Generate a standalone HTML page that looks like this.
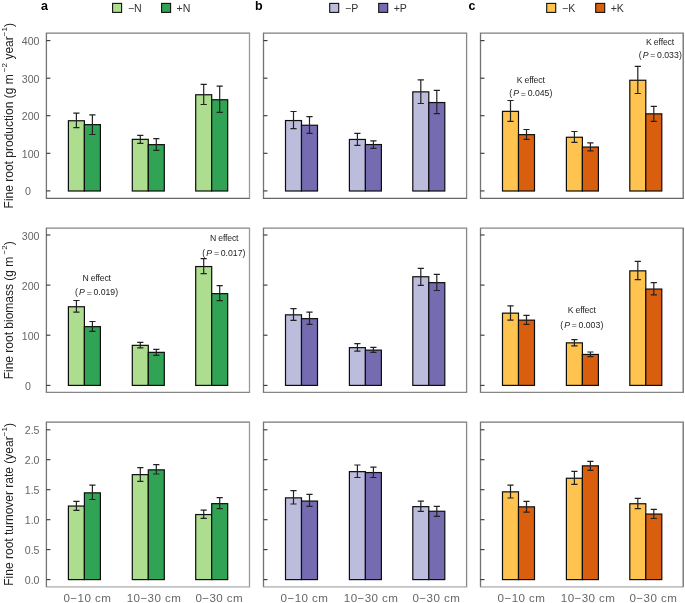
<!DOCTYPE html>
<html><head><meta charset="utf-8"><style>
html,body{margin:0;padding:0;background:#fff;}
body{width:685px;height:603px;overflow:hidden;font-family:"Liberation Sans",sans-serif;}
svg{display:block;font-family:"Liberation Sans",sans-serif;filter:blur(0.3px);}
</style></head><body>
<svg width="685" height="603" viewBox="0 0 685 603">
<rect width="100%" height="100%" fill="#fff"/>
<text x="41.0" y="9.6" font-size="12.5" font-weight="bold" fill="#000">a</text>
<text x="255.0" y="9.6" font-size="12.5" font-weight="bold" fill="#000">b</text>
<text x="468.6" y="9.6" font-size="12.5" font-weight="bold" fill="#000">c</text>
<rect x="112.6" y="3.4" width="9" height="9" fill="#addd8e" stroke="#111" stroke-width="1.1"/>
<text x="127.9" y="11.8" font-size="10.6" fill="#333">−N</text>
<rect x="161.6" y="3.4" width="9" height="9" fill="#31a354" stroke="#111" stroke-width="1.1"/>
<text x="176.6" y="11.8" font-size="10.6" fill="#333">+N</text>
<rect x="329.7" y="3.4" width="9" height="9" fill="#bcbddc" stroke="#111" stroke-width="1.1"/>
<text x="345.0" y="11.8" font-size="10.6" fill="#333">−P</text>
<rect x="378.7" y="3.4" width="9" height="9" fill="#756bb1" stroke="#111" stroke-width="1.1"/>
<text x="393.7" y="11.8" font-size="10.6" fill="#333">+P</text>
<rect x="546.7" y="3.4" width="9" height="9" fill="#fec44f" stroke="#111" stroke-width="1.1"/>
<text x="562.0" y="11.8" font-size="10.6" fill="#333">−K</text>
<rect x="595.7" y="3.4" width="9" height="9" fill="#d95f0e" stroke="#111" stroke-width="1.1"/>
<text x="610.7" y="11.8" font-size="10.6" fill="#333">+K</text>
<rect x="68.40" y="120.75" width="16.0" height="70.25" fill="#addd8e" stroke="#0d0d0d" stroke-width="1.2"/>
<rect x="84.40" y="124.65" width="16.0" height="66.35" fill="#31a354" stroke="#0d0d0d" stroke-width="1.2"/>
<path d="M76.40 113.20V127.60M73.30 113.20H79.50M73.30 127.60H79.50" stroke="#222" stroke-width="1.2" fill="none"/>
<path d="M92.40 114.90V134.50M89.30 114.90H95.50M89.30 134.50H95.50" stroke="#222" stroke-width="1.2" fill="none"/>
<rect x="132.30" y="139.35" width="16.0" height="51.65" fill="#addd8e" stroke="#0d0d0d" stroke-width="1.2"/>
<rect x="148.30" y="144.65" width="16.0" height="46.35" fill="#31a354" stroke="#0d0d0d" stroke-width="1.2"/>
<path d="M140.30 135.30V143.30M137.20 135.30H143.40M137.20 143.30H143.40" stroke="#222" stroke-width="1.2" fill="none"/>
<path d="M156.30 138.70V150.30M153.20 138.70H159.40M153.20 150.30H159.40" stroke="#222" stroke-width="1.2" fill="none"/>
<rect x="195.70" y="94.75" width="16.0" height="96.25" fill="#addd8e" stroke="#0d0d0d" stroke-width="1.2"/>
<rect x="211.70" y="99.75" width="16.0" height="91.25" fill="#31a354" stroke="#0d0d0d" stroke-width="1.2"/>
<path d="M203.70 84.40V104.50M200.60 84.40H206.80M200.60 104.50H206.80" stroke="#222" stroke-width="1.2" fill="none"/>
<path d="M219.70 86.10V112.40M216.60 86.10H222.80M216.60 112.40H222.80" stroke="#222" stroke-width="1.2" fill="none"/>
<path d="M45.8 33.2H250.1" stroke="#7c7c7c" stroke-width="1.3"/>
<path d="M45.8 198.3H250.1" stroke="#666666" stroke-width="1.3"/>
<path d="M46.4 33.2V198.3" stroke="#747474" stroke-width="1.3"/>
<path d="M249.5 33.2V198.3" stroke="#9a9a9a" stroke-width="1.3"/>
<path d="M46.4 190.9H50.4" stroke="#333" stroke-width="1.1"/>
<path d="M46.4 153.3H50.4" stroke="#333" stroke-width="1.1"/>
<path d="M46.4 115.7H50.4" stroke="#333" stroke-width="1.1"/>
<path d="M46.4 78.2H50.4" stroke="#333" stroke-width="1.1"/>
<path d="M46.4 40.6H50.4" stroke="#333" stroke-width="1.1"/>
<rect x="285.50" y="120.55" width="16.0" height="70.45" fill="#bcbddc" stroke="#0d0d0d" stroke-width="1.2"/>
<rect x="301.50" y="125.25" width="16.0" height="65.75" fill="#756bb1" stroke="#0d0d0d" stroke-width="1.2"/>
<path d="M293.50 111.50V128.70M290.40 111.50H296.60M290.40 128.70H296.60" stroke="#222" stroke-width="1.2" fill="none"/>
<path d="M309.50 116.60V133.40M306.40 116.60H312.60M306.40 133.40H312.60" stroke="#222" stroke-width="1.2" fill="none"/>
<rect x="349.40" y="139.45" width="16.0" height="51.55" fill="#bcbddc" stroke="#0d0d0d" stroke-width="1.2"/>
<rect x="365.40" y="144.55" width="16.0" height="46.45" fill="#756bb1" stroke="#0d0d0d" stroke-width="1.2"/>
<path d="M357.40 133.40V145.30M354.30 133.40H360.50M354.30 145.30H360.50" stroke="#222" stroke-width="1.2" fill="none"/>
<path d="M373.40 140.90V148.40M370.30 140.90H376.50M370.30 148.40H376.50" stroke="#222" stroke-width="1.2" fill="none"/>
<rect x="412.80" y="91.85" width="16.0" height="99.15" fill="#bcbddc" stroke="#0d0d0d" stroke-width="1.2"/>
<rect x="428.80" y="102.55" width="16.0" height="88.45" fill="#756bb1" stroke="#0d0d0d" stroke-width="1.2"/>
<path d="M420.80 79.90V103.50M417.70 79.90H423.90M417.70 103.50H423.90" stroke="#222" stroke-width="1.2" fill="none"/>
<path d="M436.80 90.30V113.70M433.70 90.30H439.90M433.70 113.70H439.90" stroke="#222" stroke-width="1.2" fill="none"/>
<path d="M262.9 33.2H467.20000000000005" stroke="#7c7c7c" stroke-width="1.3"/>
<path d="M262.9 198.3H467.20000000000005" stroke="#666666" stroke-width="1.3"/>
<path d="M263.5 33.2V198.3" stroke="#747474" stroke-width="1.3"/>
<path d="M466.6 33.2V198.3" stroke="#888888" stroke-width="1.3"/>
<path d="M263.5 190.9H267.5" stroke="#333" stroke-width="1.1"/>
<path d="M263.5 153.3H267.5" stroke="#333" stroke-width="1.1"/>
<path d="M263.5 115.7H267.5" stroke="#333" stroke-width="1.1"/>
<path d="M263.5 78.2H267.5" stroke="#333" stroke-width="1.1"/>
<path d="M263.5 40.6H267.5" stroke="#333" stroke-width="1.1"/>
<rect x="502.50" y="111.35" width="16.0" height="79.65" fill="#fec44f" stroke="#0d0d0d" stroke-width="1.2"/>
<rect x="518.50" y="134.65" width="16.0" height="56.35" fill="#d95f0e" stroke="#0d0d0d" stroke-width="1.2"/>
<path d="M510.50 100.50V121.30M507.40 100.50H513.60M507.40 121.30H513.60" stroke="#222" stroke-width="1.2" fill="none"/>
<path d="M526.50 129.50V139.30M523.40 129.50H529.60M523.40 139.30H529.60" stroke="#222" stroke-width="1.2" fill="none"/>
<rect x="566.40" y="137.25" width="16.0" height="53.75" fill="#fec44f" stroke="#0d0d0d" stroke-width="1.2"/>
<rect x="582.40" y="147.05" width="16.0" height="43.95" fill="#d95f0e" stroke="#0d0d0d" stroke-width="1.2"/>
<path d="M574.40 131.50V142.40M571.30 131.50H577.50M571.30 142.40H577.50" stroke="#222" stroke-width="1.2" fill="none"/>
<path d="M590.40 142.80V150.80M587.30 142.80H593.50M587.30 150.80H593.50" stroke="#222" stroke-width="1.2" fill="none"/>
<rect x="629.80" y="80.25" width="16.0" height="110.75" fill="#fec44f" stroke="#0d0d0d" stroke-width="1.2"/>
<rect x="645.80" y="113.85" width="16.0" height="77.15" fill="#d95f0e" stroke="#0d0d0d" stroke-width="1.2"/>
<path d="M637.80 66.30V93.50M634.70 66.30H640.90M634.70 93.50H640.90" stroke="#222" stroke-width="1.2" fill="none"/>
<path d="M653.80 106.40V121.40M650.70 106.40H656.90M650.70 121.40H656.90" stroke="#222" stroke-width="1.2" fill="none"/>
<path d="M479.9 33.2H683.8000000000001" stroke="#7c7c7c" stroke-width="1.3"/>
<path d="M479.9 198.3H683.8000000000001" stroke="#666666" stroke-width="1.3"/>
<path d="M480.5 33.2V198.3" stroke="#747474" stroke-width="1.3"/>
<path d="M683.2 33.2V198.3" stroke="#6a6a6a" stroke-width="1.3"/>
<path d="M480.5 190.9H484.5" stroke="#333" stroke-width="1.1"/>
<path d="M480.5 153.3H484.5" stroke="#333" stroke-width="1.1"/>
<path d="M480.5 115.7H484.5" stroke="#333" stroke-width="1.1"/>
<path d="M480.5 78.2H484.5" stroke="#333" stroke-width="1.1"/>
<path d="M480.5 40.6H484.5" stroke="#333" stroke-width="1.1"/>
<rect x="68.40" y="306.75" width="16.0" height="78.65" fill="#addd8e" stroke="#0d0d0d" stroke-width="1.2"/>
<rect x="84.40" y="326.65" width="16.0" height="58.75" fill="#31a354" stroke="#0d0d0d" stroke-width="1.2"/>
<path d="M76.40 300.50V312.20M73.30 300.50H79.50M73.30 312.20H79.50" stroke="#222" stroke-width="1.2" fill="none"/>
<path d="M92.40 321.50V331.30M89.30 321.50H95.50M89.30 331.30H95.50" stroke="#222" stroke-width="1.2" fill="none"/>
<rect x="132.30" y="345.35" width="16.0" height="40.05" fill="#addd8e" stroke="#0d0d0d" stroke-width="1.2"/>
<rect x="148.30" y="352.35" width="16.0" height="33.05" fill="#31a354" stroke="#0d0d0d" stroke-width="1.2"/>
<path d="M140.30 342.30V347.90M137.20 342.30H143.40M137.20 347.90H143.40" stroke="#222" stroke-width="1.2" fill="none"/>
<path d="M156.30 349.40V355.40M153.20 349.40H159.40M153.20 355.40H159.40" stroke="#222" stroke-width="1.2" fill="none"/>
<rect x="195.70" y="266.55" width="16.0" height="118.85" fill="#addd8e" stroke="#0d0d0d" stroke-width="1.2"/>
<rect x="211.70" y="293.65" width="16.0" height="91.75" fill="#31a354" stroke="#0d0d0d" stroke-width="1.2"/>
<path d="M203.70 258.60V273.70M200.60 258.60H206.80M200.60 273.70H206.80" stroke="#222" stroke-width="1.2" fill="none"/>
<path d="M219.70 285.60V300.70M216.60 285.60H222.80M216.60 300.70H222.80" stroke="#222" stroke-width="1.2" fill="none"/>
<path d="M45.8 228.1H250.1" stroke="#858585" stroke-width="1.3"/>
<path d="M45.8 392.4H250.1" stroke="#878787" stroke-width="1.3"/>
<path d="M46.4 228.1V392.4" stroke="#747474" stroke-width="1.3"/>
<path d="M249.5 228.1V392.4" stroke="#9a9a9a" stroke-width="1.3"/>
<path d="M46.4 385.4H50.4" stroke="#333" stroke-width="1.1"/>
<path d="M46.4 335.2H50.4" stroke="#333" stroke-width="1.1"/>
<path d="M46.4 285.1H50.4" stroke="#333" stroke-width="1.1"/>
<path d="M46.4 235.0H50.4" stroke="#333" stroke-width="1.1"/>
<rect x="285.50" y="314.85" width="16.0" height="70.55" fill="#bcbddc" stroke="#0d0d0d" stroke-width="1.2"/>
<rect x="301.50" y="318.65" width="16.0" height="66.75" fill="#756bb1" stroke="#0d0d0d" stroke-width="1.2"/>
<path d="M293.50 308.60V320.40M290.40 308.60H296.60M290.40 320.40H296.60" stroke="#222" stroke-width="1.2" fill="none"/>
<path d="M309.50 312.10V324.30M306.40 312.10H312.60M306.40 324.30H312.60" stroke="#222" stroke-width="1.2" fill="none"/>
<rect x="349.40" y="347.65" width="16.0" height="37.75" fill="#bcbddc" stroke="#0d0d0d" stroke-width="1.2"/>
<rect x="365.40" y="350.15" width="16.0" height="35.25" fill="#756bb1" stroke="#0d0d0d" stroke-width="1.2"/>
<path d="M357.40 343.60V351.10M354.30 343.60H360.50M354.30 351.10H360.50" stroke="#222" stroke-width="1.2" fill="none"/>
<path d="M373.40 347.40V352.40M370.30 347.40H376.50M370.30 352.40H376.50" stroke="#222" stroke-width="1.2" fill="none"/>
<rect x="412.80" y="276.75" width="16.0" height="108.65" fill="#bcbddc" stroke="#0d0d0d" stroke-width="1.2"/>
<rect x="428.80" y="282.65" width="16.0" height="102.75" fill="#756bb1" stroke="#0d0d0d" stroke-width="1.2"/>
<path d="M420.80 268.40V285.30M417.70 268.40H423.90M417.70 285.30H423.90" stroke="#222" stroke-width="1.2" fill="none"/>
<path d="M436.80 274.40V290.50M433.70 274.40H439.90M433.70 290.50H439.90" stroke="#222" stroke-width="1.2" fill="none"/>
<path d="M262.9 228.1H467.20000000000005" stroke="#858585" stroke-width="1.3"/>
<path d="M262.9 392.4H467.20000000000005" stroke="#878787" stroke-width="1.3"/>
<path d="M263.5 228.1V392.4" stroke="#747474" stroke-width="1.3"/>
<path d="M466.6 228.1V392.4" stroke="#888888" stroke-width="1.3"/>
<path d="M263.5 385.4H267.5" stroke="#333" stroke-width="1.1"/>
<path d="M263.5 335.2H267.5" stroke="#333" stroke-width="1.1"/>
<path d="M263.5 285.1H267.5" stroke="#333" stroke-width="1.1"/>
<path d="M263.5 235.0H267.5" stroke="#333" stroke-width="1.1"/>
<rect x="502.50" y="313.15" width="16.0" height="72.25" fill="#fec44f" stroke="#0d0d0d" stroke-width="1.2"/>
<rect x="518.50" y="320.15" width="16.0" height="65.25" fill="#d95f0e" stroke="#0d0d0d" stroke-width="1.2"/>
<path d="M510.50 305.80V320.20M507.40 305.80H513.60M507.40 320.20H513.60" stroke="#222" stroke-width="1.2" fill="none"/>
<path d="M526.50 315.40V324.30M523.40 315.40H529.60M523.40 324.30H529.60" stroke="#222" stroke-width="1.2" fill="none"/>
<rect x="566.40" y="342.85" width="16.0" height="42.55" fill="#fec44f" stroke="#0d0d0d" stroke-width="1.2"/>
<rect x="582.40" y="354.45" width="16.0" height="30.95" fill="#d95f0e" stroke="#0d0d0d" stroke-width="1.2"/>
<path d="M574.40 339.60V345.80M571.30 339.60H577.50M571.30 345.80H577.50" stroke="#222" stroke-width="1.2" fill="none"/>
<path d="M590.40 352.00V356.70M587.30 352.00H593.50M587.30 356.70H593.50" stroke="#222" stroke-width="1.2" fill="none"/>
<rect x="629.80" y="270.85" width="16.0" height="114.55" fill="#fec44f" stroke="#0d0d0d" stroke-width="1.2"/>
<rect x="645.80" y="289.05" width="16.0" height="96.35" fill="#d95f0e" stroke="#0d0d0d" stroke-width="1.2"/>
<path d="M637.80 261.40V279.60M634.70 261.40H640.90M634.70 279.60H640.90" stroke="#222" stroke-width="1.2" fill="none"/>
<path d="M653.80 282.60V294.80M650.70 282.60H656.90M650.70 294.80H656.90" stroke="#222" stroke-width="1.2" fill="none"/>
<path d="M479.9 228.1H683.8000000000001" stroke="#858585" stroke-width="1.3"/>
<path d="M479.9 392.4H683.8000000000001" stroke="#878787" stroke-width="1.3"/>
<path d="M480.5 228.1V392.4" stroke="#747474" stroke-width="1.3"/>
<path d="M683.2 228.1V392.4" stroke="#6a6a6a" stroke-width="1.3"/>
<path d="M480.5 385.4H484.5" stroke="#333" stroke-width="1.1"/>
<path d="M480.5 335.2H484.5" stroke="#333" stroke-width="1.1"/>
<path d="M480.5 285.1H484.5" stroke="#333" stroke-width="1.1"/>
<path d="M480.5 235.0H484.5" stroke="#333" stroke-width="1.1"/>
<rect x="68.40" y="506.05" width="16.0" height="73.55" fill="#addd8e" stroke="#0d0d0d" stroke-width="1.2"/>
<rect x="84.40" y="492.85" width="16.0" height="86.75" fill="#31a354" stroke="#0d0d0d" stroke-width="1.2"/>
<path d="M76.40 501.40V510.30M73.30 501.40H79.50M73.30 510.30H79.50" stroke="#222" stroke-width="1.2" fill="none"/>
<path d="M92.40 485.20V499.50M89.30 485.20H95.50M89.30 499.50H95.50" stroke="#222" stroke-width="1.2" fill="none"/>
<rect x="132.30" y="474.65" width="16.0" height="104.95" fill="#addd8e" stroke="#0d0d0d" stroke-width="1.2"/>
<rect x="148.30" y="469.85" width="16.0" height="109.75" fill="#31a354" stroke="#0d0d0d" stroke-width="1.2"/>
<path d="M140.30 467.70V481.30M137.20 467.70H143.40M137.20 481.30H143.40" stroke="#222" stroke-width="1.2" fill="none"/>
<path d="M156.30 464.60V474.00M153.20 464.60H159.40M153.20 474.00H159.40" stroke="#222" stroke-width="1.2" fill="none"/>
<rect x="195.70" y="514.55" width="16.0" height="65.05" fill="#addd8e" stroke="#0d0d0d" stroke-width="1.2"/>
<rect x="211.70" y="503.65" width="16.0" height="75.95" fill="#31a354" stroke="#0d0d0d" stroke-width="1.2"/>
<path d="M203.70 510.10V518.30M200.60 510.10H206.80M200.60 518.30H206.80" stroke="#222" stroke-width="1.2" fill="none"/>
<path d="M219.70 497.60V508.60M216.60 497.60H222.80M216.60 508.60H222.80" stroke="#222" stroke-width="1.2" fill="none"/>
<path d="M45.8 422.2H250.1" stroke="#747474" stroke-width="1.3"/>
<path d="M45.8 586.8H250.1" stroke="#c2c2c2" stroke-width="1.7"/>
<path d="M46.4 422.2V586.8" stroke="#747474" stroke-width="1.3"/>
<path d="M249.5 422.2V586.8" stroke="#9a9a9a" stroke-width="1.3"/>
<path d="M46.4 579.6H50.4" stroke="#333" stroke-width="1.1"/>
<path d="M46.4 549.6H50.4" stroke="#333" stroke-width="1.1"/>
<path d="M46.4 519.7H50.4" stroke="#333" stroke-width="1.1"/>
<path d="M46.4 489.7H50.4" stroke="#333" stroke-width="1.1"/>
<path d="M46.4 459.7H50.4" stroke="#333" stroke-width="1.1"/>
<path d="M46.4 429.8H50.4" stroke="#333" stroke-width="1.1"/>
<rect x="285.50" y="497.85" width="16.0" height="81.75" fill="#bcbddc" stroke="#0d0d0d" stroke-width="1.2"/>
<rect x="301.50" y="501.05" width="16.0" height="78.55" fill="#756bb1" stroke="#0d0d0d" stroke-width="1.2"/>
<path d="M293.50 490.70V504.00M290.40 490.70H296.60M290.40 504.00H296.60" stroke="#222" stroke-width="1.2" fill="none"/>
<path d="M309.50 494.30V506.40M306.40 494.30H312.60M306.40 506.40H312.60" stroke="#222" stroke-width="1.2" fill="none"/>
<rect x="349.40" y="471.65" width="16.0" height="107.95" fill="#bcbddc" stroke="#0d0d0d" stroke-width="1.2"/>
<rect x="365.40" y="472.55" width="16.0" height="107.05" fill="#756bb1" stroke="#0d0d0d" stroke-width="1.2"/>
<path d="M357.40 465.00V477.50M354.30 465.00H360.50M354.30 477.50H360.50" stroke="#222" stroke-width="1.2" fill="none"/>
<path d="M373.40 467.20V477.50M370.30 467.20H376.50M370.30 477.50H376.50" stroke="#222" stroke-width="1.2" fill="none"/>
<rect x="412.80" y="506.65" width="16.0" height="72.95" fill="#bcbddc" stroke="#0d0d0d" stroke-width="1.2"/>
<rect x="428.80" y="511.25" width="16.0" height="68.35" fill="#756bb1" stroke="#0d0d0d" stroke-width="1.2"/>
<path d="M420.80 501.20V511.30M417.70 501.20H423.90M417.70 511.30H423.90" stroke="#222" stroke-width="1.2" fill="none"/>
<path d="M436.80 506.40V516.30M433.70 506.40H439.90M433.70 516.30H439.90" stroke="#222" stroke-width="1.2" fill="none"/>
<path d="M262.9 422.2H467.20000000000005" stroke="#747474" stroke-width="1.3"/>
<path d="M262.9 586.8H467.20000000000005" stroke="#c2c2c2" stroke-width="1.7"/>
<path d="M263.5 422.2V586.8" stroke="#747474" stroke-width="1.3"/>
<path d="M466.6 422.2V586.8" stroke="#888888" stroke-width="1.3"/>
<path d="M263.5 579.6H267.5" stroke="#333" stroke-width="1.1"/>
<path d="M263.5 549.6H267.5" stroke="#333" stroke-width="1.1"/>
<path d="M263.5 519.7H267.5" stroke="#333" stroke-width="1.1"/>
<path d="M263.5 489.7H267.5" stroke="#333" stroke-width="1.1"/>
<path d="M263.5 459.7H267.5" stroke="#333" stroke-width="1.1"/>
<path d="M263.5 429.8H267.5" stroke="#333" stroke-width="1.1"/>
<rect x="502.50" y="491.85" width="16.0" height="87.75" fill="#fec44f" stroke="#0d0d0d" stroke-width="1.2"/>
<rect x="518.50" y="506.85" width="16.0" height="72.75" fill="#d95f0e" stroke="#0d0d0d" stroke-width="1.2"/>
<path d="M510.50 485.20V498.00M507.40 485.20H513.60M507.40 498.00H513.60" stroke="#222" stroke-width="1.2" fill="none"/>
<path d="M526.50 501.30V512.20M523.40 501.30H529.60M523.40 512.20H529.60" stroke="#222" stroke-width="1.2" fill="none"/>
<rect x="566.40" y="478.25" width="16.0" height="101.35" fill="#fec44f" stroke="#0d0d0d" stroke-width="1.2"/>
<rect x="582.40" y="465.85" width="16.0" height="113.75" fill="#d95f0e" stroke="#0d0d0d" stroke-width="1.2"/>
<path d="M574.40 471.40V484.40M571.30 471.40H577.50M571.30 484.40H577.50" stroke="#222" stroke-width="1.2" fill="none"/>
<path d="M590.40 461.40V470.30M587.30 461.40H593.50M587.30 470.30H593.50" stroke="#222" stroke-width="1.2" fill="none"/>
<rect x="629.80" y="503.75" width="16.0" height="75.85" fill="#fec44f" stroke="#0d0d0d" stroke-width="1.2"/>
<rect x="645.80" y="514.05" width="16.0" height="65.55" fill="#d95f0e" stroke="#0d0d0d" stroke-width="1.2"/>
<path d="M637.80 498.40V508.60M634.70 498.40H640.90M634.70 508.60H640.90" stroke="#222" stroke-width="1.2" fill="none"/>
<path d="M653.80 509.40V518.50M650.70 509.40H656.90M650.70 518.50H656.90" stroke="#222" stroke-width="1.2" fill="none"/>
<path d="M479.9 422.2H683.8000000000001" stroke="#747474" stroke-width="1.3"/>
<path d="M479.9 586.8H683.8000000000001" stroke="#c2c2c2" stroke-width="1.7"/>
<path d="M480.5 422.2V586.8" stroke="#747474" stroke-width="1.3"/>
<path d="M683.2 422.2V586.8" stroke="#6a6a6a" stroke-width="1.3"/>
<path d="M480.5 579.6H484.5" stroke="#333" stroke-width="1.1"/>
<path d="M480.5 549.6H484.5" stroke="#333" stroke-width="1.1"/>
<path d="M480.5 519.7H484.5" stroke="#333" stroke-width="1.1"/>
<path d="M480.5 489.7H484.5" stroke="#333" stroke-width="1.1"/>
<path d="M480.5 459.7H484.5" stroke="#333" stroke-width="1.1"/>
<path d="M480.5 429.8H484.5" stroke="#333" stroke-width="1.1"/>
<text x="27.9" y="195.4" font-size="10.6" fill="#666" text-anchor="middle">0</text>
<text x="39.5" y="157.8" font-size="10.6" fill="#666" text-anchor="end">100</text>
<text x="39.5" y="120.2" font-size="10.6" fill="#666" text-anchor="end">200</text>
<text x="39.5" y="82.7" font-size="10.6" fill="#666" text-anchor="end">300</text>
<text x="39.5" y="45.1" font-size="10.6" fill="#666" text-anchor="end">400</text>
<text x="27.9" y="389.9" font-size="10.6" fill="#666" text-anchor="middle">0</text>
<text x="39.5" y="339.7" font-size="10.6" fill="#666" text-anchor="end">100</text>
<text x="39.5" y="289.6" font-size="10.6" fill="#666" text-anchor="end">200</text>
<text x="39.5" y="239.5" font-size="10.6" fill="#666" text-anchor="end">300</text>
<text x="39.5" y="584.1" font-size="10.6" fill="#666" text-anchor="end">0.0</text>
<text x="39.5" y="554.1" font-size="10.6" fill="#666" text-anchor="end">0.5</text>
<text x="39.5" y="524.2" font-size="10.6" fill="#666" text-anchor="end">1.0</text>
<text x="39.5" y="494.2" font-size="10.6" fill="#666" text-anchor="end">1.5</text>
<text x="39.5" y="464.2" font-size="10.6" fill="#666" text-anchor="end">2.0</text>
<text x="39.5" y="434.3" font-size="10.6" fill="#666" text-anchor="end">2.5</text>
<text transform="translate(12.9 115.7) rotate(-90)" font-size="12" fill="#222" text-anchor="middle">Fine root production (g m<tspan dx="2.2" dy="-6" font-size="8.1">−2</tspan><tspan dy="6"> year</tspan><tspan dy="-6" font-size="8.1">−1</tspan><tspan dy="6">)</tspan></text>
<text transform="translate(12.9 310.3) rotate(-90)" font-size="12" fill="#222" text-anchor="middle">Fine root biomass (g m<tspan dx="2.2" dy="-6" font-size="8.1">−2</tspan><tspan dy="6">)</tspan></text>
<text transform="translate(12.9 504.4) rotate(-90)" font-size="12" fill="#222" text-anchor="middle">Fine root turnover rate (year<tspan dy="-6" font-size="8.1">−1</tspan><tspan dy="6">)</tspan></text>
<text x="63.5" y="601.6" font-size="11.6" letter-spacing="0.42" fill="#666">0−10 cm</text>
<text x="126.7" y="601.6" font-size="11.6" letter-spacing="0.42" fill="#666">10−30 cm</text>
<text x="195.4" y="601.6" font-size="11.6" letter-spacing="0.42" fill="#666">0−30 cm</text>
<text x="280.6" y="601.6" font-size="11.6" letter-spacing="0.42" fill="#666">0−10 cm</text>
<text x="343.8" y="601.6" font-size="11.6" letter-spacing="0.42" fill="#666">10−30 cm</text>
<text x="412.5" y="601.6" font-size="11.6" letter-spacing="0.42" fill="#666">0−30 cm</text>
<text x="497.6" y="601.6" font-size="11.6" letter-spacing="0.42" fill="#666">0−10 cm</text>
<text x="560.8" y="601.6" font-size="11.6" letter-spacing="0.42" fill="#666">10−30 cm</text>
<text x="629.5" y="601.6" font-size="11.6" letter-spacing="0.42" fill="#666">0−30 cm</text>
<text x="516.69" y="82.9" font-size="8.7" letter-spacing="-0.16" fill="#222">K effect</text>
<text x="509.26" y="95.8" font-size="8.7" fill="#222">(</text>
<text x="513.23" y="95.8" font-size="8.7" font-style="italic" fill="#222">P</text>
<text x="520.87" y="96.50" font-size="8.7" fill="#333">=</text>
<text x="527.66" y="95.8" font-size="8.7" fill="#222">0.045</text>
<text x="549.50" y="95.8" font-size="8.7" fill="#222">)</text>
<text x="645.99" y="44.6" font-size="8.7" letter-spacing="-0.16" fill="#222">K effect</text>
<text x="638.66" y="57.6" font-size="8.7" fill="#222">(</text>
<text x="642.63" y="57.6" font-size="8.7" font-style="italic" fill="#222">P</text>
<text x="650.27" y="58.30" font-size="8.7" fill="#333">=</text>
<text x="657.06" y="57.6" font-size="8.7" fill="#222">0.033</text>
<text x="678.90" y="57.6" font-size="8.7" fill="#222">)</text>
<text x="82.39" y="280.9" font-size="8.7" letter-spacing="-0.16" fill="#222">N effect</text>
<text x="75.06" y="295.2" font-size="8.7" fill="#222">(</text>
<text x="79.03" y="295.2" font-size="8.7" font-style="italic" fill="#222">P</text>
<text x="86.67" y="295.90" font-size="8.7" fill="#333">=</text>
<text x="93.46" y="295.2" font-size="8.7" fill="#222">0.019</text>
<text x="115.30" y="295.2" font-size="8.7" fill="#222">)</text>
<text x="209.89" y="240.8" font-size="8.7" letter-spacing="-0.16" fill="#222">N effect</text>
<text x="202.36" y="255.5" font-size="8.7" fill="#222">(</text>
<text x="206.33" y="255.5" font-size="8.7" font-style="italic" fill="#222">P</text>
<text x="213.97" y="256.20" font-size="8.7" fill="#333">=</text>
<text x="220.76" y="255.5" font-size="8.7" fill="#222">0.017</text>
<text x="242.60" y="255.5" font-size="8.7" fill="#222">)</text>
<text x="567.69" y="313.4" font-size="8.7" letter-spacing="-0.16" fill="#222">K effect</text>
<text x="560.16" y="327.7" font-size="8.7" fill="#222">(</text>
<text x="564.13" y="327.7" font-size="8.7" font-style="italic" fill="#222">P</text>
<text x="571.77" y="328.40" font-size="8.7" fill="#333">=</text>
<text x="578.56" y="327.7" font-size="8.7" fill="#222">0.003</text>
<text x="600.40" y="327.7" font-size="8.7" fill="#222">)</text>
</svg>
</body></html>
